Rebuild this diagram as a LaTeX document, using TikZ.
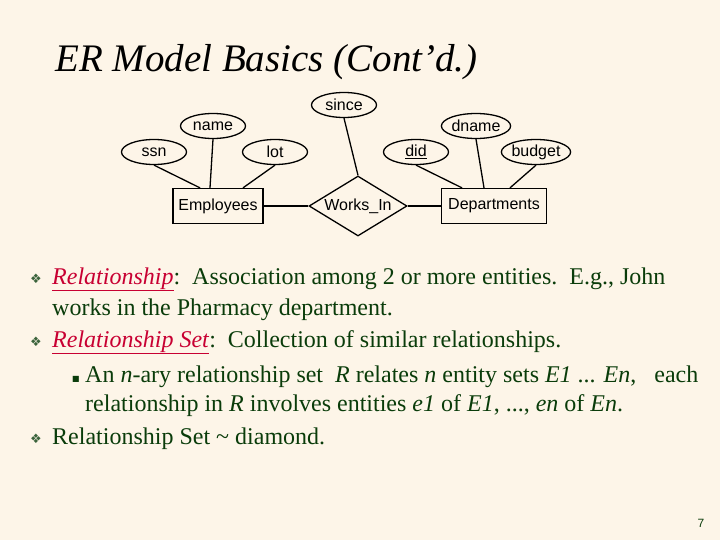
\documentclass[tikz,border=0pt]{standalone}
\usepackage{fontspec}
\setmainfont{Liberation Serif}
\newfontfamily\diagfont{Liberation Sans}
\newfontfamily\symfont{DejaVu Sans}
\usetikzlibrary{shapes.geometric}
\definecolor{cream}{RGB}{253,245,232}
\definecolor{txtgreen}{RGB}{10,60,10}
\definecolor{termred}{RGB}{200,0,50}
\newcommand{\term}[1]{\textcolor{termred}{\underline{\textit{#1}}}}
\newcommand{\bulmark}{{\symfont\fontsize{13}{13}\selectfont\textcolor{txtgreen!80}{❖}}}
\begin{document}
\begin{tikzpicture}[x=1pt,y=-1pt,
    attr/.style={draw,line width=1.3pt,ellipse,minimum width=65pt,minimum height=25pt,inner sep=0pt,
      font=\diagfont\fontsize{16}{16}\selectfont},
    entity/.style={draw,line width=1.3pt,rectangle,minimum height=35pt,inner sep=2pt,
      font=\diagfont\fontsize{16}{16}\selectfont},
    rel/.style={draw,line width=1.3pt,diamond,aspect=1.65,minimum width=98pt,minimum height=60pt,inner sep=0pt,
      font=\diagfont\fontsize{16}{16}\selectfont},
    link/.style={line width=1.3pt},
    body/.style={anchor=base west,inner sep=0pt,text=txtgreen,font=\fontsize{24}{24}\selectfont}]
  \fill [cream] (0,0) rectangle (720,540);
  \useasboundingbox (0,0) rectangle (720,540);
  % title
  \node (title) [anchor=base west,inner sep=0pt,font=\fontsize{39}{39}\selectfont\itshape] at (55,72) {ER Model Basics (Cont’d.)};
  % entities and relationship
  \node (emp) [entity,minimum width=90pt] at (218,206) {Employees};
  \node (works) [rel] at (358,206) {Works\_In};
  \node (dept) [entity,minimum width=105pt] at (494,206) {Departments};
  % attributes
  \node (ssn) [attr] at (154,152) {ssn};
  \node (name) [attr] at (213,126) {name};
  \node (lot) [attr] at (275,152) {lot};
  \node (since) [attr] at (344,105) {since};
  \node (did) [attr] at (416,152) {\underline{did}};
  \node (dname) [attr] at (476,126) {dname};
  \node (budget) [attr] at (536,152) {budget};
  % links
  \draw [link] (ssn.south) -- ([xshift=-18pt]emp.north);
  \draw [link] (name.south) -- ([xshift=-8pt]emp.north);
  \draw [link] (lot.south) -- ([xshift=25pt]emp.north);
  \draw [link] (since.south) -- (works.north);
  \draw [link] (did.south) -- ([xshift=-32pt]dept.north);
  \draw [link] (dname.south) -- ([xshift=-10pt]dept.north);
  \draw [link] (budget.south) -- ([xshift=16pt]dept.north);
  \draw [link] (emp.east) -- (works.west);
  \draw [link] (works.east) -- (dept.west);
  % bullets
  \node (b1) [anchor=base,inner sep=0pt] at (36,283) {\bulmark};
  \node (b2) [anchor=base,inner sep=0pt] at (36,346) {\bulmark};
  \node (b3) [anchor=base,inner sep=0pt] at (36,443) {\bulmark};
  \node (s1) [anchor=base,inner sep=0pt,text=txtgreen,font=\symfont\fontsize{8}{8}\selectfont] at (76,381) {■};
  \node (t1) [body] at (52,284) {\term{Relationship}:\ \ Association among 2 or more entities.\ \ E.g., John};
  \node (t2) [body] at (52,315) {works in the Pharmacy department.};
  \node (t3) [body] at (52,347) {\term{Relationship Set}:\ \ Collection of similar relationships.};
  \node (t4) [body] at (85,382) {An \textit{n}-ary relationship set\ \ \textit{R} relates \textit{n} entity sets \textit{E1} ... \textit{En},\ \ \ each};
  \node (t5) [body] at (85,411) {relationship in \textit{R} involves entities \textit{e1} of \textit{E1}, ..., \textit{en} of \textit{En}.};
  \node (t6) [body] at (52,444) {Relationship Set \textasciitilde\ diamond.};
  % page number
  \node (page) [anchor=base,inner sep=0pt,text=txtgreen,font=\diagfont\fontsize{12}{12}\selectfont] at (701,527) {7};
\end{tikzpicture}
\end{document}
